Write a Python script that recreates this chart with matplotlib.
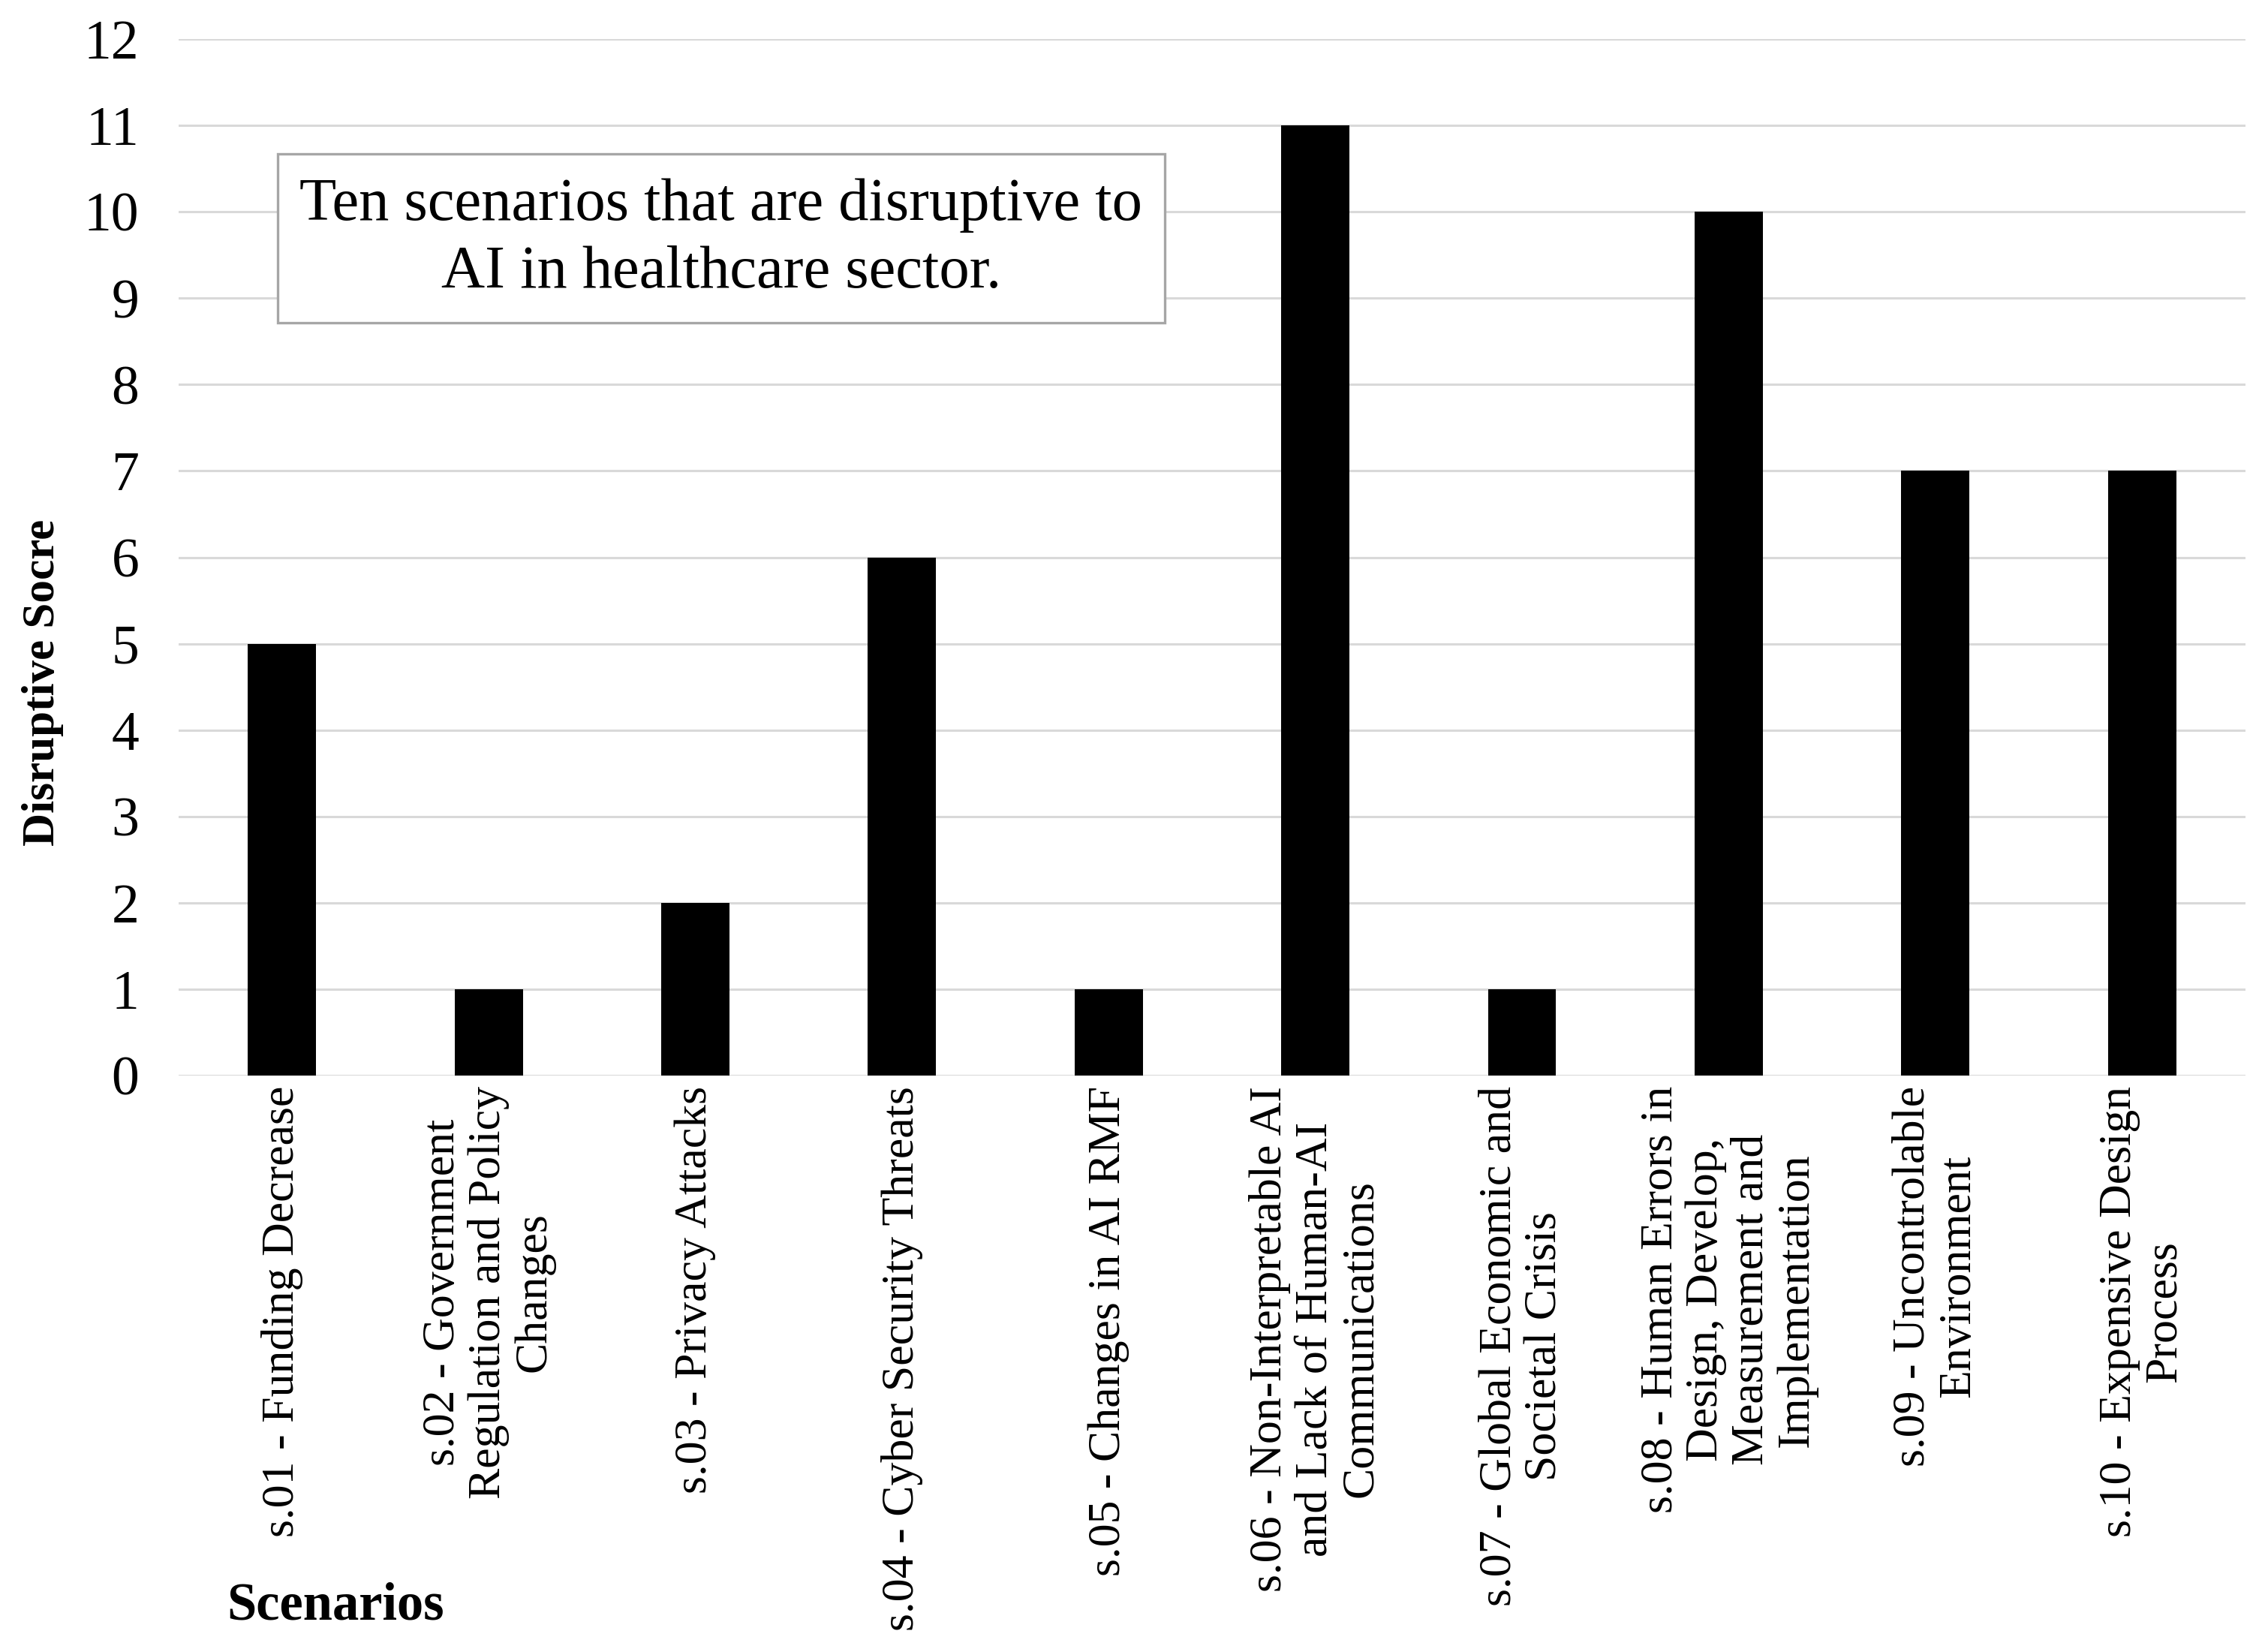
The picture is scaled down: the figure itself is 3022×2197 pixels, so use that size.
import matplotlib
matplotlib.use("Agg")
import matplotlib.pyplot as plt
from matplotlib.patches import Rectangle
import numpy as np

categories = [
    "s.01 - Funding Decrease",
    "s.02 - Government\nRegulation and Policy\nChanges",
    "s.03 - Privacy Attacks",
    "s.04 - Cyber Security Threats",
    "s.05 - Changes in AI RMF",
    "s.06 - Non-Interpretable AI\nand Lack of Human-AI\nCommunications",
    "s.07 - Global Economic and\nSocietal Crisis",
    "s.08 - Human Errors in\nDesign, Develop,\nMeasurement and\nImplementation",
    "s.09 - Uncontrolable\nEnvironment",
    "s.10 - Expensive Design\nProcess",
]
scores = [5, 1, 2, 6, 1, 11, 1, 10, 7, 7]
y_ticks = list(range(0, 13))

plt.rcParams['font.family'] = ['Liberation Serif', 'DejaVu Serif']

fig = plt.figure(figsize=(15.11, 10.985), dpi=200)
ax = fig.add_axes([0.0788, 0.3477, 0.9112, 0.6286])

x = np.arange(len(categories))
ax.bar(x, scores, width=0.33, color='black', zorder=3)
ax.set_xlim(-0.5, len(categories) - 0.5)
ax.set_ylim(0, 12)
ax.set_yticks(y_ticks)
ax.set_yticklabels([str(v) for v in y_ticks], fontsize=26.5)
ax.yaxis.grid(True, color='#D9D9D9', linewidth=1.1, zorder=0)
ax.set_axisbelow(True)
for s in ax.spines.values():
    s.set_visible(False)
ax.tick_params(axis='y', length=0, pad=19)
ax.tick_params(axis='x', length=0, pad=5)
ax.set_xticks(x)
ax.set_xticklabels(categories, rotation=90, fontsize=22.3, ha='center', va='top',
                   multialignment='center', linespacing=1.12)

# annotation box
box = Rectangle((0.1224, 0.8043), 0.5136 - 0.1224, 0.9067 - 0.8043,
                transform=fig.transFigure, facecolor='white', edgecolor='#A6A6A6',
                linewidth=1.2, zorder=5)
fig.add_artist(box)
fig.text(0.318, 0.855, "Ten scenarios that are disruptive to\nAI in healthcare sector.",
         fontsize=29, ha='center', va='center', linespacing=1.3, zorder=6)

fig.text(0.019, 0.586, "Disruptive Socre", rotation=90, fontsize=22, fontweight='bold',
         ha='center', va='center')
fig.text(0.148, 0.026, "Scenarios", fontsize=25.4, fontweight='bold', ha='center', va='center')

fig.savefig("out.png", dpi=200)
